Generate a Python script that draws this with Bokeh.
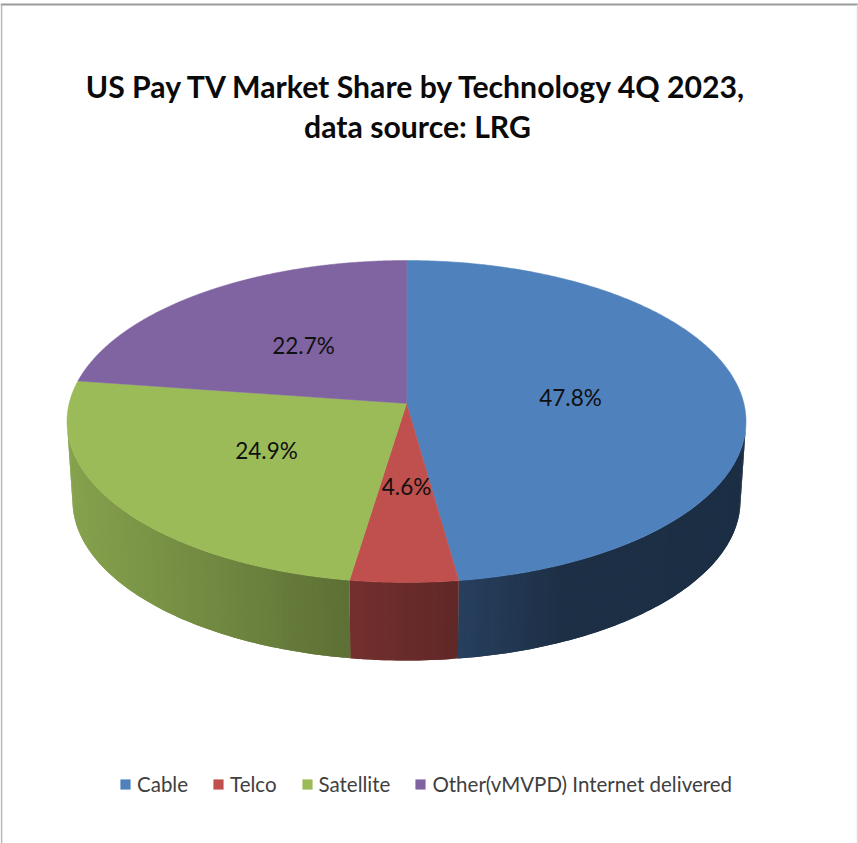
from bokeh.plotting import figure
from bokeh.models import Range1d, Legend, LegendItem
from bokeh.core.properties import value
from bokeh.embed import file_html
from bokeh.resources import INLINE
import numpy as np

categories = ["Cable", "Telco", "Satellite", "Other(vMVPD) Internet delivered"]
shares = [47.8, 4.6, 24.9, 22.7]
labels = ["47.8%", "4.6%", "24.9%", "22.7%"]
colors = [(79, 129, 189), (192, 80, 77), (155, 187, 89), (128, 100, 162)]
title_lines = ["US Pay TV Market Share by Technology 4Q 2023,", "data source: LRG"]

# geometry of the tilted pie, in page pixels
CX, CY, RX, RY = 406.0, 421.0, 339.5, 161.0
BX, BY, BRY = 334.0, 500.0, 160.0
TILT = -0.112


def project(theta):
    """clockwise angle from 12 o'clock -> position on the unit circle seen in perspective"""
    u, v = np.sin(theta), -np.cos(theta)
    d = 1 + TILT * v
    return u * np.sqrt(1 - TILT ** 2) / d, (v + TILT) / d


def shade(x):
    return np.interp(x, [67, 350, 458, 560, 746], [0.87, 0.60, 0.50, 0.37, 0.36])


p = figure(width=858, height=843, output_backend="svg", toolbar_location=None,
           x_range=Range1d(0, 858), y_range=Range1d(843, 0), min_border=0,
           outline_line_color=None, background_fill_color="white")
p.axis.visible = False
p.grid.visible = False

# frame of the picture
p.line([0, 858], [4, 4], line_color="#9a9a9a", line_width=2)
p.line([1, 1], [4, 843], line_color="#b5b5b5", line_width=1.5)
p.line([857, 857], [4, 843], line_color="#d9d9d9", line_width=1.5)

edges = np.concatenate([[0], np.cumsum(shares)]) / 100 * 2 * np.pi

# side wall: overlapping strips, darker towards the right
sx, sy, sc = [], [], []
for i, col in enumerate(colors):
    th = np.linspace(edges[i], edges[i + 1], max(3, int((edges[i + 1] - edges[i]) * 60)))
    u, v = project(th)
    keep = v >= 0
    u, v = u[keep], v[keep]
    if len(u) < 2:
        continue
    for j in range(len(u) - 1):
        e = min(j + 3, len(u))
        uu, vv = u[j:e], v[j:e]
        xt = CX + RX * uu
        yt = CY + RY * vv
        xb = CX + BX * uu
        yb = BY + BRY * vv
        sx.append(list(xt) + list(xb[::-1]))
        sy.append(list(yt) + list(yb[::-1]))
        k = shade(CX + RX * (u[j] + u[j + 1]) / 2)
        sc.append("#%02x%02x%02x" % tuple(int(c * k) for c in col))
p.patches(sx, sy, fill_color=sc, line_color=None)

# top faces
items = []
vx, vy = CX, CY + RY * TILT
for i, col in enumerate(colors):
    th = np.linspace(edges[i], edges[i + 1], 300)
    u, v = project(th)
    xs = np.concatenate([[vx], CX + RX * u])
    ys = np.concatenate([[vy], CY + RY * v])
    hexc = "#%02x%02x%02x" % col
    r = p.patch(xs, ys, fill_color=hexc, line_color=hexc, line_width=0.5)
    items.append(LegendItem(label=categories[i], renderers=[r]))

# data labels
p.text([570, 406, 266, 303], [397, 486, 450, 345], text=labels, text_font=value("Lato"),
       text_font_size="22.5px", text_color="#101010", text_align="center", text_baseline="middle")

# title
p.text([417, 417], [85, 125], text=title_lines, text_font=value("Lato"), text_font_style="bold",
       text_font_size="30.2px", text_color="#0a0a0a", text_align="center", text_baseline="middle")

legend = Legend(items=items, orientation="horizontal", location=(119, 47),
                background_fill_alpha=0, border_line_color=None, padding=0, margin=0,
                glyph_width=12, glyph_height=12, label_standoff=6, spacing=24,
                label_text_font="Lato", label_text_font_size="20.5px", label_text_color="#404040")
p.add_layout(legend)

open("out.html", "w").write(file_html(p, INLINE))
